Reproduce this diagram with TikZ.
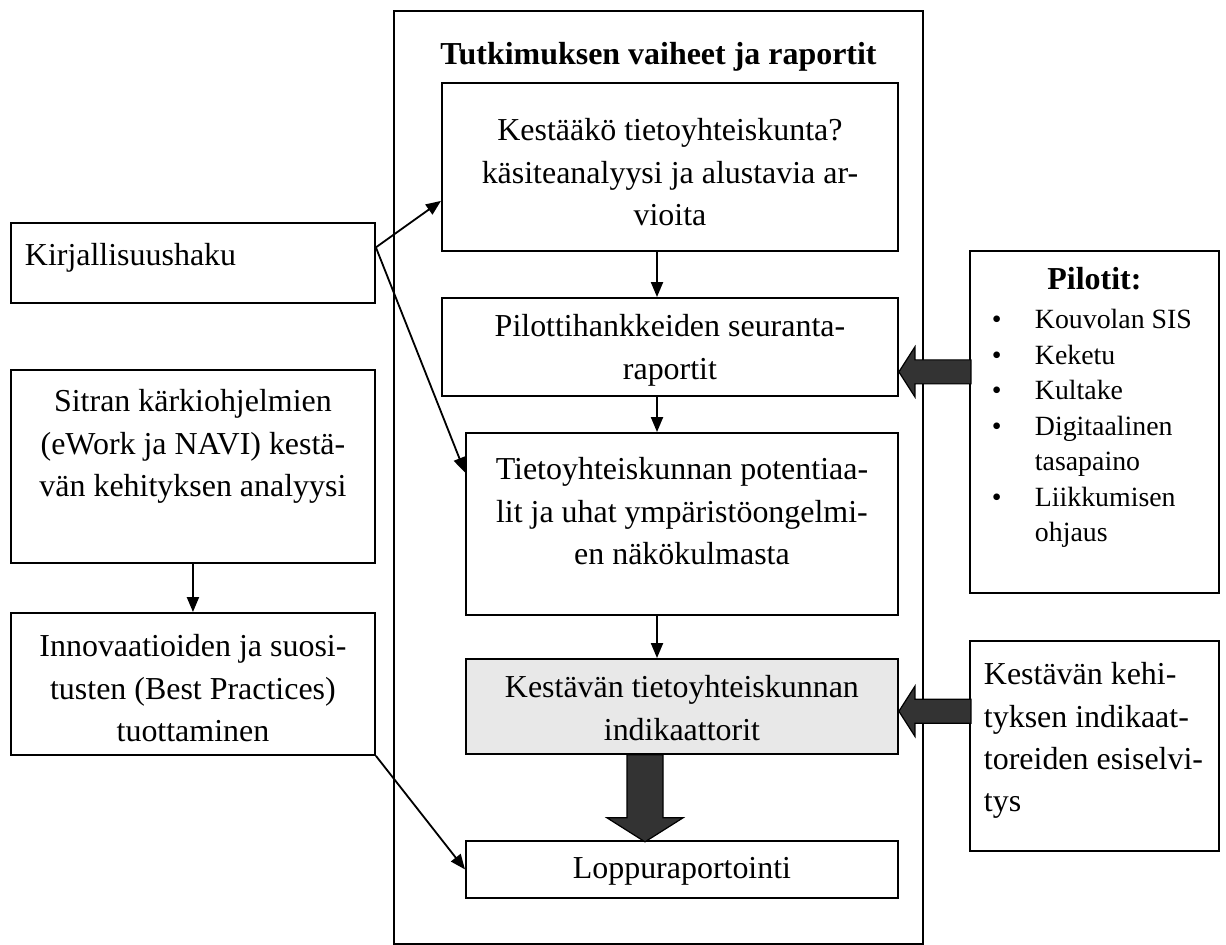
\documentclass[tikz,border=0pt]{standalone}
\usepackage{fontspec}
\setmainfont{Liberation Serif}
\usetikzlibrary{arrows.meta,calc}
\newlength\px
\setlength\px{0.4132pt}
% #2 width, #3 height, #4 height of the first line (all in px)
\newcommand{\boxtxt}[5][\centering]{\parbox[c][\dimexpr#3\px-18\px\relax][t]{\dimexpr#2\px-28\px\relax}{\hyphenpenalty=10000 #1\rule{0pt}{#4\px}#5}}
\newcommand{\bul}[1]{\makebox[51\px][l]{\hspace{8\px}\textbullet}#1}
\tikzset{
  box/.style={draw,line width=0.75pt,anchor=north west,inner xsep=5.8pt,inner ysep=3.72pt,
    font=\fontsize{13.2}{17.5}\selectfont},
  greybox/.style={box,fill=black!9},
  conn/.style={draw,line width=0.75pt,-{Triangle[length=6.2pt,width=5pt]}},
  blockarrow/.style={fill=black!80,draw=black,line width=0.5pt}
}
\begin{document}
\begin{tikzpicture}[x=0.4132pt,y=-0.4132pt]
  \useasboundingbox (0,0) rectangle (1226,944);
  \node[box] (frame) at (393,10) {\boxtxt{529}{933}{45}{\textbf{Tutkimuksen vaiheet ja raportit}}};
  \node[box] (a) at (441,82) {\boxtxt{456}{168}{49}{Kestääkö tietoyhteiskunta?\\ käsiteanalyysi ja alustavia ar-\\ vioita}};
  \node[box] (b) at (441,297) {\boxtxt{456}{98}{30}{Pilottihankkeiden seuranta-\\ raportit}};
  \node[box] (c) at (465,432) {\boxtxt{432}{182}{38}{Tietoyhteiskunnan potentiaa-\\ lit ja uhat ympäristöongelmi-\\ en näkökulmasta}};
  \node[greybox] (d) at (465,658) {\boxtxt{432}{95}{30}{Kestävän~tietoyhteiskunnan\\ indikaattorit}};
  \node[box] (e) at (465,840) {\boxtxt{432}{57}{29}{Loppuraportointi}};
  \node[box] (kirj) at (10,222) {\boxtxt[\raggedright]{364}{80}{34}{Kirjallisuushaku}};
  \node[box] (sitra) at (10,369) {\boxtxt{364}{193}{33}{Sitran kärkiohjelmien\\ (eWork~ja~NAVI)~kestä-\\ vän kehityksen analyysi}};
  \node[box] (innov) at (10,612) {\boxtxt{364}{142}{35}{Innovaatioiden~ja~suosi-\\ tusten (Best Practices)\\ tuottaminen}};
  \node[box] (pil) at (969,250) {\boxtxt{249}{342}{30}{\textbf{Pilotit:}\par
    \raggedright\fontsize{11.5}{14.67}\selectfont\vspace{3.5\px}
    \bul{Kouvolan SIS}\\ \bul{Keketu}\\ \bul{Kultake}\\ \bul{Digitaalinen}\\ \hspace*{51\px}tasapaino\\
    \bul{Liikkumisen}\\ \hspace*{51\px}ohjaus}};
  \node[box] (kk) at (969,640) {\boxtxt[\raggedright]{249}{210}{35}{Kestävän~kehi-\\ tyksen~indikaat-\\ toreiden~esiselvi-\\ tys}};

  \coordinate (mid) at (657,0);
  \coordinate (dn) at (645,0);
  \draw[conn] (a.south -| mid) -- (b.north -| mid);
  \draw[conn] (b.south -| mid) -- (c.north -| mid);
  \draw[conn] (c.south -| mid) -- (d.north -| mid);
  \draw[conn] (sitra.south) -- (innov.north);
  \coordinate (k1) at ($(kirj.north east)!0.31!(kirj.south east)$);
  \draw[conn] (k1) -- ($(a.north west)!0.70!(a.south west)$);
  \draw[conn] (k1) -- ($(c.north west)!0.22!(c.south west)$);
  \draw[conn] (innov.south east) -- (e.west);

  \filldraw[blockarrow] ($(b.north east)!0.75!(b.south east)$) -- ++(16,-25) -- ++(0,13) -- ++(56,0)
    -- ++(0,24) -- ++(-56,0) -- ++(0,13) -- cycle;
  \filldraw[blockarrow] ($(d.north east)!0.55!(d.south east)$) -- ++(16,-25) -- ++(0,13) -- ++(56,0)
    -- ++(0,24) -- ++(-56,0) -- ++(0,13) -- cycle;
  \filldraw[blockarrow] (d.south -| dn) ++(-18,0) -- ++(0,63) -- ++(-20,0) -- ++(38,24) -- ++(38,-24)
    -- ++(-20,0) -- ++(0,-63) -- cycle;
\end{tikzpicture}
\end{document}
